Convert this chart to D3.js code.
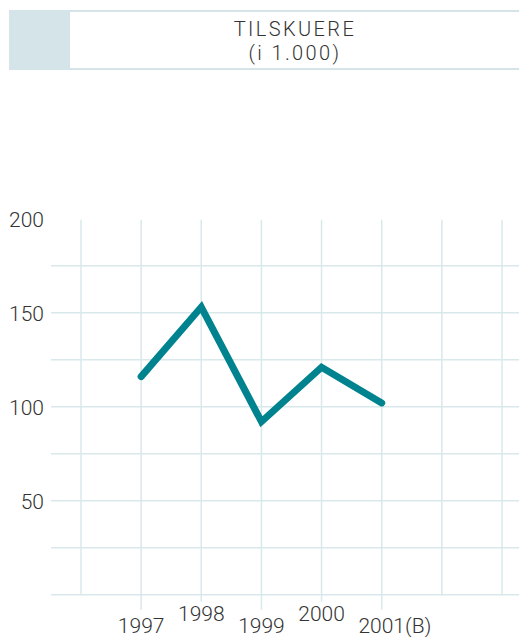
<!DOCTYPE html>
<html><head>
<meta charset="utf-8">
<script src="https://d3js.org/d3.v7.min.js"></script>
<style>
  body { margin: 0; background: #fff; }
  svg { display: block; }
  text { font-family: Roboto, "Open Sans", sans-serif; font-weight: 300; fill: #333; }
</style>
</head>
<body>
<svg id="chart" width="519" height="637"></svg>
<script>
  // data
  const years = [1997, 1998, 1999, 2000, 2001];
  const tilskuere = [116, 153, 92, 121, 102];
  const yearLabels = ["1997", "1998", "1999", "2000", "2001"];
  const labelSuffix = ["", "", "", "", "(B)"];
  const yTicks = [50, 100, 150, 200];
  const gridYears = [1996, 1997, 1998, 1999, 2000, 2001, 2002, 2003];
  const gridValues = [0, 25, 50, 75, 100, 125, 150, 175];
  const titleLines = ["TILSKUERE", "(i 1.000)"];

  const svg = d3.select("#chart");
  const gridColor = "#d8e8eb";

  // header box
  const head = svg.append("g");
  head.append("rect").attr("x", 9).attr("y", 10).attr("width", 510).attr("height", 60).attr("fill", "#d4e4e8");
  head.append("rect").attr("x", 70).attr("y", 12).attr("width", 449).attr("height", 56).attr("fill", "#fff");
  head.selectAll("text").data(titleLines)
      .join("text")
      .attr("x", 295)
      .attr("y", (d, i) => 36 + i * 24)
      .attr("text-anchor", "middle")
      .attr("font-size", 20)
      .attr("letter-spacing", 2.4)
      .text(d => d);

  // scales
  const x = d3.scaleLinear().domain([1996, 2003]).range([81, 502]);
  const y = d3.scaleLinear().domain([0, 200]).range([594.7, 218.7]);

  // grid
  const grid = svg.append("g").attr("stroke", gridColor).attr("stroke-width", 1.5);
  grid.selectAll("line.h").data(gridValues)
      .join("line").attr("class", "h")
      .attr("x1", 51).attr("x2", 519)
      .attr("y1", d => y(d)).attr("y2", d => y(d));
  grid.selectAll("line.v").data(gridYears)
      .join("line").attr("class", "v")
      .attr("x1", d => x(d)).attr("x2", d => x(d))
      .attr("y1", y(200) + 1).attr("y2", y(0));
  // ticks below the axis, alternating long/short
  grid.selectAll("line.t").data(years)
      .join("line").attr("class", "t")
      .attr("x1", d => x(d)).attr("x2", d => x(d))
      .attr("y1", y(0)).attr("y2", (d, i) => y(0) + (i % 2 ? 7 : 15));

  // y labels
  svg.append("g").selectAll("text").data(yTicks)
      .join("text")
      .attr("x", 44)
      .attr("y", d => y(d) + 8)
      .attr("text-anchor", "end")
      .attr("font-size", 21)
      .text(d => d);

  // x labels: year centred on the tick, suffix trailing
  const xl = svg.append("g").selectAll("text").data(years)
      .join("text")
      .attr("y", (d, i) => i % 2 ? 621 : 633)
      .attr("font-size", 21);
  xl.append("tspan").text((d, i) => yearLabels[i]);
  xl.append("tspan").text((d, i) => labelSuffix[i]);
  xl.each(function(d, i) {
    const w = this.firstChild.getComputedTextLength();
    d3.select(this).attr("x", x(d) - w / 2);
  });

  // line
  const line = d3.line().x((d, i) => x(years[i])).y(d => y(d));
  svg.append("path")
     .datum(tilskuere)
     .attr("d", line)
     .attr("fill", "none")
     .attr("stroke", "#00838f")
     .attr("stroke-width", 7)
     .attr("stroke-linecap", "round")
     .attr("stroke-linejoin", "miter");
</script>
</body>
</html>
